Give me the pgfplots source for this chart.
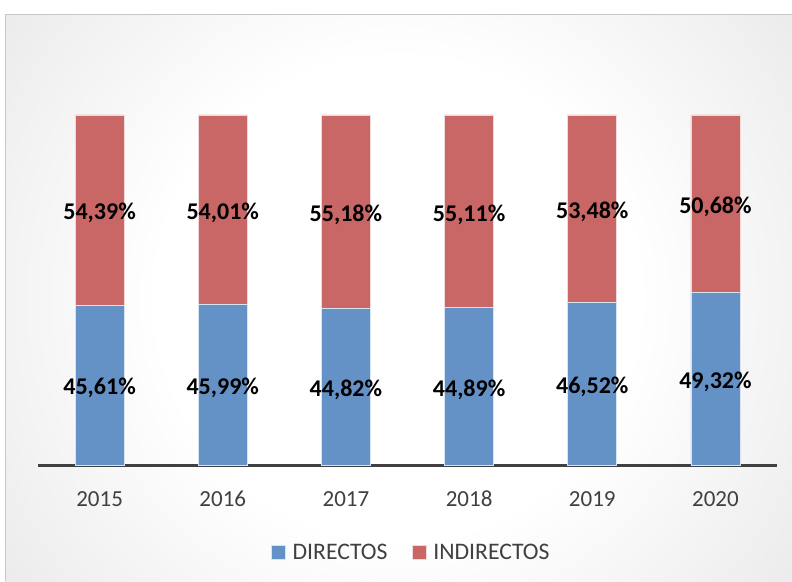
\documentclass[border=0pt]{standalone}
\usepackage{fontspec}
\setmainfont{Carlito}
\usepackage{pgfplots}
\pgfplotsset{compat=1.18}
\definecolor{dblue}{RGB}{101,146,198}
\definecolor{dred}{RGB}{200,103,101}
\definecolor{txt}{RGB}{64,64,64}
\pgfdeclareradialshading{bgshade}{\pgfpoint{0bp}{0bp}}{color(0bp)=(white); color(12bp)=(white); color(28bp)=(black!10); color(40bp)=(black!22); color(50bp)=(black!27)}
\begin{document}
\begin{tikzpicture}[x=1pt,y=1pt]
\useasboundingbox (0,0) rectangle (792,581);
\fill[white] (0,0) rectangle (792,581);
\begin{scope}
\clip (5,0) rectangle (792,566);
\shade[shading=bgshade] (398,283) circle (500);
\end{scope}
\draw[black!22, line width=1pt] (5,0) -- (5,566) -- (792,566);
\begin{axis}[
  at={(38pt,116pt)}, anchor=south west,
  scale only axis, width=739pt, height=350pt,
  xmin=-0.5, xmax=5.5, ymin=0, ymax=100,
  ybar stacked, bar width=49pt,
  axis x line=bottom, axis y line=none,
  x axis line style={-, line width=3pt, draw=txt},
  xtick={0,...,5}, xticklabels={2015,2016,2017,2018,2019,2020},
  xtick style={draw=none},
  xticklabel style={anchor=center, yshift=-32pt, font=\fontsize{23}{27}\selectfont, text=txt},
  /pgf/number format/assume math mode=true,
  legend style={at={(axis description cs:0.505,0)}, anchor=center, yshift=-88pt, draw=none, fill=none, legend columns=2, font=\fontsize{23.7}{28}\selectfont, text=txt, /tikz/every even column/.append style={column sep=22pt}},
  legend image code/.code={\fill[#1] (0pt,-6pt) rectangle (14pt,8pt); \path (19pt,0pt);},
]
\addplot[fill=dblue, draw=white!75!dblue, line width=0.8pt] coordinates {(0,45.61) (1,45.99) (2,44.82) (3,44.89) (4,46.52) (5,49.32)};
\addplot[fill=dred, draw=white!75!dred, line width=0.8pt] coordinates {(0,54.39) (1,54.01) (2,55.18) (3,55.11) (4,53.48) (5,50.68)};
\legend{DIRECTOS,INDIRECTOS}
\end{axis}
\begin{axis}[
  at={(38pt,116pt)}, anchor=south west,
  scale only axis, width=739pt, height=350pt,
  xmin=-0.5, xmax=5.5, ymin=0, ymax=100,
  hide axis,
]
\addplot[draw=none, mark=none, nodes near coords, point meta=explicit symbolic,
  nodes near coords style={anchor=center, yshift=-3pt, font=\fontsize{24}{28}\selectfont\bfseries, text=black}]
  table[meta=lab] {
x y lab
0 22.805 45,61\%
1 22.995 45,99\%
2 22.41 44,82\%
3 22.445 44,89\%
4 23.26 46,52\%
5 24.66 49,32\%
0 72.805 54,39\%
1 72.995 54,01\%
2 72.41 55,18\%
3 72.445 55,11\%
4 73.26 53,48\%
5 74.66 50,68\%
};
\end{axis}
\end{tikzpicture}
\end{document}
